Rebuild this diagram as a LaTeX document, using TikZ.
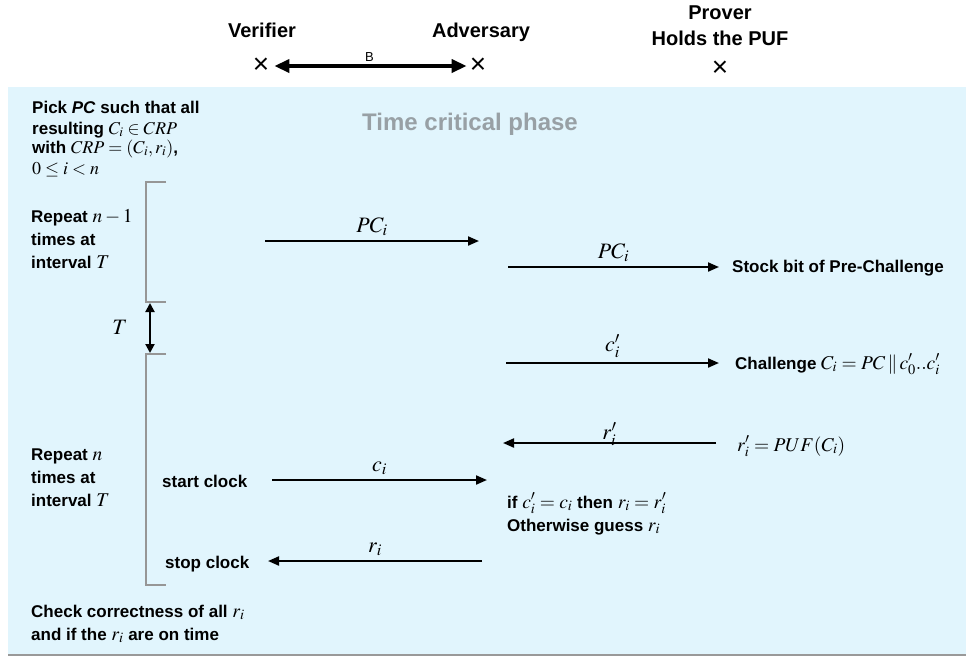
\documentclass[tikz,border=0pt]{standalone}
\usepackage{mathptmx}
\usepackage[no-math]{fontspec}
\setmainfont{Liberation Sans}
\usetikzlibrary{arrows.meta}
\definecolor{boxfill}{RGB}{225,245,253}
\definecolor{phasegray}{RGB}{152,160,165}
\definecolor{brgray}{RGB}{150,150,150}
\newcommand{\mth}[1]{{\fontsize{19.5}{20}\selectfont$#1$}}
\newcommand{\mths}[1]{{\fontsize{18}{19}\selectfont$#1$}}
\begin{document}
\begin{tikzpicture}[x=1pt,y=-1pt,
  txt/.style={font=\fontsize{17}{20}\selectfont\bfseries, inner sep=0pt, anchor=base west},
  hdr/.style={font=\fontsize{20}{24}\selectfont\bfseries, inner sep=0pt, anchor=base},
  xmark/.style={font=\fontsize{28}{30}\selectfont, inner sep=0pt},
  lbl/.style={font=\fontsize{22}{23}\selectfont, inner sep=0pt},
  msg/.style={line width=2pt, -{Triangle[length=11pt,width=9pt]}},
  brk/.style={brgray, line width=2pt},
]
\useasboundingbox (0,0) rectangle (966,657);
\fill[boxfill] (8,87) rectangle (966,654);
\draw[black!40, line width=1.5pt] (8,655) -- (966,655);

% headers
\node[hdr] (verifier) at (262,37) {Verifier};
\node[hdr] (adversary) at (481,37) {Adversary};
\node[hdr] (prover) at (720,19) {Prover};
\node[hdr] (holds) at (720,45) {Holds the PUF};
\node[xmark] (xv) at (261,66) {×};
\node[xmark] (xa) at (478,66) {×};
\node[xmark] (xp) at (720,69) {×};
\draw[line width=3.5pt, {Triangle[length=15pt,width=13pt]}-{Triangle[length=15pt,width=13pt]},
  shorten <=5pt, shorten >=3pt]
  (xv.east) -- node[above=3pt, font=\fontsize{13}{14}\selectfont, inner sep=0pt] (blbl) {B} (xa.west);

\node[font=\fontsize{24}{28}\selectfont\bfseries, text=phasegray, inner sep=0pt, anchor=base] (phase) at (470,130) {Time critical phase};

% top left
\node[txt] (pick1) at (32,113) {Pick \textit{PC} such that all};
\node[txt] (pick2) at (32,134) {resulting \mths{C_i\in CRP}};
\node[txt] (pick3) at (32,153) {with \mths{CRP=(C_i,r_i)},};
\node[txt] (pick4) at (32,174) {\mths{0\le i<n}};

% brackets
\draw[brk] (166,182) -- (146,182) -- (146,302) -- (166,302);
\draw[brk] (166,354) -- (146,354) -- (146,585) -- (166,585);
\coordinate (tA) at (150,303);
\coordinate (tB) at (150,353);
\draw[line width=2pt, {Triangle[length=9pt,width=9pt]}-{Triangle[length=9pt,width=9pt]}] (tA) -- (tB);
\node[lbl] (tlbl) at (120,327) {$T$};

% repeat n-1
\node[txt] (rep1a) at (31,222) {Repeat \mth{n-1}};
\node[txt] (rep1b) at (31,245) {times at};
\node[txt] (rep1c) at (31,268) {interval \mth{T}};

% messages
\coordinate (a1s) at (265,241);
\coordinate (a1e) at (479,241);
\draw[msg] (a1s) -- node[lbl, above=4pt] (l1) {$PC_i$} (a1e);

\coordinate (a2s) at (508,267);
\coordinate (a2e) at (719,267);
\draw[msg] (a2s) -- node[lbl, above=4pt] (l2) {$PC_i$} (a2e);
\node[txt] (stock) at (732,272) {Stock bit of Pre-Challenge};

\coordinate (a3s) at (506,363);
\coordinate (a3e) at (719,363);
\draw[msg] (a3s) -- node[lbl, above=4pt] (l3) {$c_i^{\prime}$} (a3e);
\node[txt] (chal) at (735,369) {Challenge \mth{C_i=PC\,\|\,c_0^{\prime}..c_i^{\prime}}};

\coordinate (a4s) at (716,443);
\coordinate (a4e) at (503,443);
\draw[msg] (a4s) -- node[lbl, above=-4pt] (l4) {$r_i^{\prime}$} (a4e);
\node[txt] (puf) at (737,451) {\mth{r_i^{\prime}=PUF(C_i)}};

% repeat n
\node[txt] (rep2a) at (31,460) {Repeat \mth{n}};
\node[txt] (rep2b) at (31,483) {times at};
\node[txt] (rep2c) at (31,506) {interval \mth{T}};

\node[txt] (start) at (162,487) {start clock};
\coordinate (a5s) at (272,480);
\coordinate (a5e) at (487,480);
\draw[msg] (a5s) -- node[lbl, above=4pt] (l5) {$c_i$} (a5e);

\node[txt] (ifl) at (507,508) {if \mth{c_i^{\prime}=c_i} then \mth{r_i=r_i^{\prime}}};
\node[txt] (oth) at (507,531) {Otherwise guess \mth{r_i}};

\node[txt] (stop) at (165,568) {stop clock};
\coordinate (a6s) at (482,561);
\coordinate (a6e) at (268,561);
\draw[msg] (a6s) -- node[lbl, above=4pt] (l6) {$r_i$} (a6e);

\node[txt] (chk1) at (31,617) {Check correctness of all \mth{r_i}};
\node[txt] (chk2) at (31,640) {and if the \mth{r_i} are on time};
\end{tikzpicture}
\end{document}
